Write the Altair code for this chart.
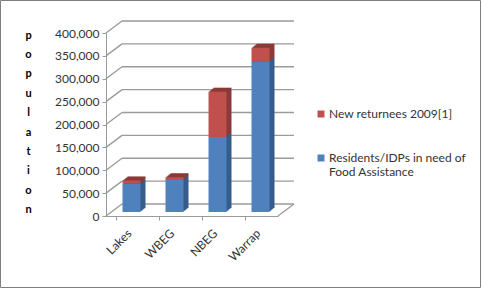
import altair as alt
import pandas as pd

categories = ["Lakes", "WBEG", "NBEG", "Warrap"]
residents = [62000, 70000, 164000, 328000]
returnees = [7000, 6000, 99000, 31000]
series = ["New returnees  2009[1]", "Residents/IDPs in need of Food Assistance"]
y_ticks = [0, 50000, 100000, 150000, 200000, 250000, 300000, 350000, 400000]
title_letters = list("population")

front_colors = ["#C0504D", "#4F81BD"]
side_colors = ["#8A3A38", "#375C8C"]

rows = []
for c, r, n in zip(categories, residents, returnees):
    rows.append({"category": c, "series": series[1], "value": r, "order": 0})
    rows.append({"category": c, "series": series[0], "value": n, "order": 1})
df = pd.DataFrame(rows)
ticks_df = pd.DataFrame({"value": y_ticks})

FONT = "Lato"
TXT = "#333333"
W, H = 172, 183
DX, DY = 16, -12
GRID = "#9a9a9a"

yscale = alt.Scale(domain=[0, 400000], nice=False)
xscale = alt.Scale(domain=categories, paddingInner=0.5, paddingOuter=0.25)

y_axis = alt.Axis(values=y_ticks, labelExpr="format(datum.value, ',')", title=title_letters,
                  titleAngle=0, titleAlign="center", titleBaseline="top",
                  titleX=-78, titleY=-4, titleLineHeight=19.4,
                  titleFont=FONT, titleFontSize=11, titleFontWeight="bold",
                  titleColor="#000000",
                  labelFont=FONT, labelFontSize=12, labelColor=TXT,
                  domainColor=GRID, tickColor=GRID, tickSize=4,
                  labelPadding=3, grid=False)
x_axis = alt.Axis(title=None, labelAngle=-45, labelAlign="right", labelBaseline="middle",
                  labelFont=FONT, labelFontSize=12, labelColor=TXT,
                  domainColor=GRID, tickColor=GRID, tickSize=4,
                  bandPosition=0, labelOffset=2, labelPadding=11, grid=False)

def ycol(**kw):
    return alt.Y("value:Q", scale=yscale, axis=y_axis, title=title_letters, **kw)

grid = alt.Chart(ticks_df).mark_rule(color=GRID, strokeWidth=1.3, yOffset=DY).encode(
    y=ycol(), x=alt.value(DX), x2=alt.value(W + DX),
)
diag = alt.Chart(ticks_df).mark_rule(color=GRID, strokeWidth=1.3, y2Offset=DY).encode(
    y=ycol(), y2=alt.Y2("value:Q"),
    x=alt.value(0), x2=alt.value(DX),
)
floor_right = alt.Chart(ticks_df).transform_filter("datum.value == 0").mark_rule(
    color=GRID, strokeWidth=1.3, y2Offset=DY).encode(
    y=ycol(), y2=alt.Y2("value:Q"),
    x=alt.value(W), x2=alt.value(W + DX),
)

def bar_layer(dx, dy, colors, main=False):
    enc = dict(
        y=ycol(stack="zero"),
        x=alt.X("category:N", scale=xscale, sort=categories, title=None, axis=x_axis),
        order=alt.Order("order:Q"),
        color=alt.Color("series:N", scale=alt.Scale(domain=series, range=colors),
                        legend=alt.Legend(
                            title=None, orient="none", legendX=209, legendY=75,
                            symbolType="square", symbolSize=49, symbolStrokeWidth=0,
                            labelFont=FONT, labelFontSize=12, labelColor=TXT,
                            labelLimit=300, rowPadding=32, padding=0, labelOffset=2,
                            labelExpr="datum.label == 'Residents/IDPs in need of Food Assistance' ? ['Residents/IDPs in need of', 'Food Assistance'] : datum.label",
                        ) if main else None),
    )
    return alt.Chart(df).mark_bar(size=18, xOffset=dx, yOffset=dy).encode(**enc)

side_layers = [bar_layer(4 + i, -4 - 0.8 * i, side_colors) for i in range(5, 0, -1)]
front = bar_layer(4, -4, front_colors, main=True)

frame = alt.Chart(ticks_df).transform_filter("datum.value == 0").mark_rect(
    fill=None, stroke="#7f7f7f", strokeWidth=1).encode(
    x=alt.value(-105.5), x2=alt.value(482 - 106 - 1.5),
    y=alt.value(-32.5), y2=alt.value(289 - 33 - 1.5),
)

chart = alt.layer(grid, diag, floor_right, *side_layers, front, frame).resolve_scale(
    color="independent"
).properties(
    width=W, height=H,
    autosize=alt.AutoSizeParams(type="none"),
    padding={"left": 106, "top": 33, "right": 204, "bottom": 73},
    background="white",
).configure_view(stroke=None)

chart.save("out.html", embed_options={"renderer": "svg", "actions": False})
